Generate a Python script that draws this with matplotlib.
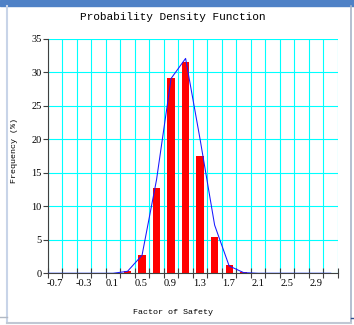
import numpy as np
import matplotlib
matplotlib.use('Agg')
import matplotlib.pyplot as plt
from matplotlib.transforms import ScaledTranslation
from matplotlib.patches import Rectangle
from matplotlib.lines import Line2D

# histogram data (percent per bin)
bin_centers = [0.4, 0.6, 0.8, 1.0, 1.2, 1.4, 1.6, 1.8, 2.0]
frequency = [0.3, 2.7, 12.8, 29.1, 31.6, 17.5, 5.4, 1.2, 0.2]

# fitted density curve
curve_x = [-0.7, 0.2, 0.4, 0.6, 0.8, 1.0, 1.2, 1.4, 1.6, 1.8, 2.0, 2.2, 3.2]
curve_y = [0.0, 0.0, 0.3, 2.7, 14.0, 29.1, 32.1, 20.0, 7.2, 1.1, 0.1, 0.0, 0.0]

x_major = [-0.7, -0.3, 0.1, 0.5, 0.9, 1.3, 1.7, 2.1, 2.5, 2.9]
x_minor = [-0.5, -0.1, 0.3, 0.7, 1.1, 1.5, 1.9, 2.3, 2.7, 3.1, 3.3]
x_labels = ['-0.7', '-0.3', '0.1', '0.5', '0.9', '1.3', '1.7', '2.1', '2.5', '2.9']
y_ticks = [0, 5, 10, 15, 20, 25, 30, 35]

W, H = 354, 325
fig = plt.figure(figsize=(W / 100, H / 100), dpi=100)
fig.patch.set_facecolor('white')

# window frame bits
fig.patches.append(Rectangle((0, 1 - 6 / H), 1, 6 / H, transform=fig.transFigure,
                             color='#4F81C6', zorder=0))
fig.add_artist(Line2D([7 / W, 7 / W], [1 - 6 / H, 1 - 323 / H], color='#C8D4E8', lw=1.5))
fig.add_artist(Line2D([350.5 / W, 350.5 / W], [1 - 6 / H, 1 - 323 / H], color='#A8B4C8', lw=1.2))
fig.add_artist(Line2D([7 / W, 351 / W], [1 - 323 / H, 1 - 323 / H], color='#C0C8D4', lw=1.5))
fig.add_artist(Line2D([0, 7 / W], [1 - 317 / H, 1 - 317 / H], color='#B0B8C4', lw=1))
fig.add_artist(Line2D([351 / W, 1], [1 - 317.7 / H, 1 - 317.7 / H], color='#2F4F8F', lw=1))

left, right, top, bottom = 47.7, 338.0, 39.0, 273.3
ax = fig.add_axes([left / W, 1 - bottom / H, (right - left) / W, (bottom - top) / H])

ax.bar(bin_centers, frequency, width=0.1, color='#FF0000', zorder=2)
ax.plot(curve_x, curve_y, color='#1818FF', lw=0.75, zorder=3)

ax.set_xlim(-0.7, 3.3)
ax.set_ylim(0, 35)
ax.set_xticks(x_major)
ax.set_xticklabels(x_labels)
ax.set_xticks(x_minor, minor=True)
ax.set_yticks(y_ticks)

ax.set_axisbelow(True)
ax.grid(True, which='both', axis='x', color='#00FFFF', lw=0.8)
ax.grid(True, which='major', axis='y', color='#00FFFF', lw=0.8)

for s in ['top', 'right']:
    ax.spines[s].set_visible(False)
for s in ['left', 'bottom']:
    ax.spines[s].set_color('#404040')
    ax.spines[s].set_linewidth(0.8)

ax.tick_params(axis='x', which='both', direction='inout', length=6.5, width=0.8,
               color='#404040', pad=0.8)
ax.tick_params(axis='y', direction='out', length=3.8, width=0.8, color='#404040', pad=0.5)

tick_font = dict(family='Liberation Serif', size=7.5)
for lab in ax.get_xticklabels():
    lab.set_fontproperties(matplotlib.font_manager.FontProperties(**tick_font))
    lab.set_transform(lab.get_transform() + ScaledTranslation(6.7 / 100, 0, fig.dpi_scale_trans))
for lab in ax.get_yticklabels():
    lab.set_fontproperties(matplotlib.font_manager.FontProperties(**tick_font))

mono = 'Liberation Mono'
ax.set_xlabel('Factor of Safety', family=mono, fontsize=6)
ax.xaxis.set_label_coords((173 - left) / (right - left), (bottom - 313) / (bottom - top))
ax.xaxis.label.set_va('center')
ax.set_ylabel('Frequency (%)', family=mono, fontsize=6)
ax.yaxis.set_label_coords((15 - left) / (right - left), (bottom - 150.8) / (bottom - top))
ax.yaxis.label.set_va('center')

fig.text(173 / W, 1 - 16.7 / H, 'Probability Density Function', family=mono,
         fontsize=8, ha='center', va='center')

plt.savefig('out.png', dpi=100)
